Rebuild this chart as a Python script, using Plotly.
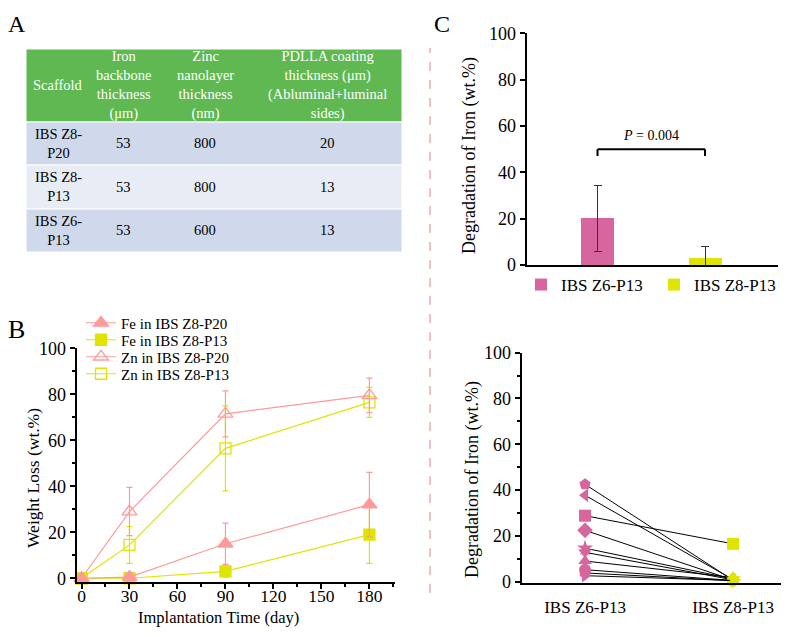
import plotly.graph_objects as go

# ---------------- data ----------------
# Panel A table
table_header = ["Scaffold",
                "Iron<br>backbone<br>thickness<br>(μm)",
                "Zinc<br>nanolayer<br>thickness<br>(nm)",
                "PDLLA coating<br>thickness (μm)<br>(Abluminal+luminal<br>sides)"]
scaffolds = ["IBS Z8-<br>P20", "IBS Z8-<br>P13", "IBS Z6-<br>P13"]
iron_thickness = [53, 53, 53]
zinc_thickness = [800, 800, 600]
pdlla_thickness = [20, 13, 13]

# Panel B
days = [0, 30, 90, 180]
fe_z8p20 = [0, 0.5, 15, 32]
fe_z8p20_err = [0, 2, 9, 14]
fe_z8p13 = [0, 0, 3, 19]
fe_z8p13_err = [0, 0, 2.5, 12.5]
zn_z8p20 = [0, 29, 71.5, 79.5]
zn_z8p20_err = [0, 10.5, 10, 7.5]
zn_z8p13 = [0, 14.5, 56.5, 76.5]
zn_z8p13_err = [0, 8, 18.5, 6.5]

# Panel C
groups = ["IBS Z6-P13", "IBS Z8-P13"]
iron_mean = [20, 3]
iron_sd = [14.3, 5]
p_label = "<i>P</i> = 0.004"
p_bracket = 50
z6_iron = [42.5, 37.7, 28.8, 22.4, 14.6, 12.8, 9.0, 5.2, 3.8, 2.6]
z8_iron = [0.6, 0.9, 16.5, 0.7, 1.2, 0.8, 1.8, 0.5, 0.4, 0.5]

# ---------------- style ----------------
PAGE_W, PAGE_H = 789, 637
OFF = 8                      # default body margin of the html page
W, H = PAGE_W - 2 * OFF, PAGE_H - 2 * OFF
FONT = "Liberation Serif"
SALMON = "#FF9A9A"
YELLOW = "#DFE400"
PINK = "#D6669D"
GREEN = "#5FB852"
ROW_DARK = "#D0D8EB"
ROW_LIGHT = "#E8ECF5"
subject_symbols = ["pentagon", "triangle-left", "square", "diamond", "star",
                   "triangle-down", "triangle-up", "circle", "hexagon", "triangle-right"]
col_widths = [64, 67, 96, 149]
row_heights = [73, 43, 44, 43]
b_legend_y = [323, 340, 357, 374]


def clamp(v):
    return max(0.0, min(1.0, v))


def px(x):
    return (x - OFF) / W


def py(y):
    return 1 - (y - OFF) / H


def dom_x(a, b):
    return [clamp(px(a)), clamp(px(b))]


def dom_y(bottom, top):
    return [clamp(py(bottom)), clamp(py(top))]


fig = go.Figure()

# ---------------- Panel B ----------------
b_series = [
    ("Fe in IBS Z8-P20", fe_z8p20, fe_z8p20_err, SALMON, "triangle-up", 13, "legend"),
    ("Fe in IBS Z8-P13", fe_z8p13, fe_z8p13_err, YELLOW, "square", 11, "legend3"),
    ("Zn in IBS Z8-P20", zn_z8p20, zn_z8p20_err, SALMON, "triangle-up-open", 13, "legend4"),
    ("Zn in IBS Z8-P13", zn_z8p13, zn_z8p13_err, YELLOW, "square-open", 11, "legend5"),
]
for name, vals, errs, col, sym, sz, leg in reversed(b_series):
    fig.add_trace(go.Scatter(
        x=days, y=vals, name=name, mode="lines+markers",
        line=dict(color=col, width=1.2),
        marker=dict(symbol=sym, size=sz, color=col, line=dict(color=col, width=1.3)),
        error_y=dict(type="data", array=errs, color=col, thickness=1.2, width=3),
        xaxis="x", yaxis="y", legend=leg, cliponaxis=False,
    ))

# ---------------- Panel C top ----------------
for i, g in enumerate(groups):
    fig.add_trace(go.Bar(
        x=[g], y=[iron_mean[i]], name=g, width=0.31,
        marker=dict(color=[PINK, YELLOW][i], line=dict(width=0)),
        error_y=dict(type="data", array=[iron_sd[i]], color="#333333", thickness=1, width=4),
        xaxis="x2", yaxis="y2", legend=["legend2", "legend6"][i],
    ))

# ---------------- Panel C bottom ----------------
for k in range(len(z6_iron)):
    fig.add_trace(go.Scatter(
        x=groups, y=[z6_iron[k], z8_iron[k]], mode="lines+markers",
        line=dict(color="black", width=1),
        marker=dict(symbol=subject_symbols[k], size=12, color=[PINK, YELLOW], line=dict(width=0)),
        xaxis="x3", yaxis="y3", showlegend=False, cliponaxis=False,
    ))

# ---------------- Panel A table (hidden axes x4/y4) ----------------
shapes = []
annotations = []
col_edges = [0]
for w_ in col_widths:
    col_edges.append(col_edges[-1] + w_)
row_edges = [0]
for h_ in row_heights:
    row_edges.append(row_edges[-1] + h_)

body_cols = [scaffolds, [str(v) for v in iron_thickness],
             [str(v) for v in zinc_thickness], [str(v) for v in pdlla_thickness]]
row_fills = [GREEN, ROW_DARK, ROW_LIGHT, ROW_DARK]
for r in range(len(row_heights)):
    shapes.append(dict(type="rect", xref="x4", yref="y4",
                       x0=col_edges[0], x1=col_edges[-1], y0=row_edges[r], y1=row_edges[r + 1],
                       fillcolor=row_fills[r], line=dict(color="white", width=1), layer="below"))
    for c in range(len(col_widths)):
        txt = table_header[c] if r == 0 else body_cols[c][r - 1]
        annotations.append(dict(
            xref="x4", yref="y4", x=(col_edges[c] + col_edges[c + 1]) / 2,
            y=(row_edges[r] + row_edges[r + 1]) / 2, text=txt, showarrow=False,
            align="center", xanchor="center", yanchor="middle",
            font=dict(family=FONT, size=14.5, color="white" if r == 0 else "black")))

# bracket for P value
shapes += [
    dict(type="line", xref="x2", yref="y2", x0=0, x1=1, y0=p_bracket, y1=p_bracket,
         line=dict(color="black", width=2)),
    dict(type="line", xref="x2", yref="y2", x0=0, x1=0, y0=p_bracket - 3, y1=p_bracket,
         line=dict(color="black", width=2)),
    dict(type="line", xref="x2", yref="y2", x0=1, x1=1, y0=p_bracket - 3, y1=p_bracket,
         line=dict(color="black", width=2)),
]
# dashed separator
shapes.append(dict(type="line", xref="paper", yref="paper", x0=px(430), x1=px(430),
                   y0=py(593), y1=py(48), line=dict(color="#E08585", width=1, dash="dash")))


def label(x, y, text, size, angle=0):
    return dict(xref="paper", yref="paper", x=px(x), y=py(y), text=text, textangle=angle,
                showarrow=False, xanchor="center", yanchor="middle",
                font=dict(family=FONT, size=size, color="black"))


annotations += [
    dict(xref="x2", yref="y2", x=0.5, y=56, text=p_label, showarrow=False,
         xanchor="center", yanchor="middle", font=dict(family=FONT, size=14, color="black")),
    label(17, 24, "A", 24),
    label(16.5, 329, "B", 26),
    label(442, 24, "C", 24),
    label(33, 478, "Weight Loss (wt.%)", 17.5, -90),
    label(219, 617.5, "Implantation Time (day)", 16.5),
    label(470, 156, "Degradation of Iron (wt.%)", 18, -90),
    label(472, 480, "Degradation of Iron (wt.%)", 18, -90),
]

axis_common = dict(showline=True, linecolor="black", linewidth=2, showgrid=False,
                   zeroline=False, ticks="outside", tickcolor="black", tickwidth=1.5,
                   ticklen=5, automargin=False,
                   tickfont=dict(family=FONT, size=18, color="black"))

leg_common = dict(xanchor="left", yanchor="middle", bgcolor="rgba(0,0,0,0)", borderwidth=0)
b_legends = {}
for j, key in enumerate(["legend", "legend3", "legend4", "legend5"]):
    b_legends[key] = dict(x=px(81), y=py(b_legend_y[j]),
                          font=dict(family=FONT, size=15, color="black"), **leg_common)

fig.update_layout(
    width=W, height=H, margin=dict(l=0, r=0, t=0, b=0, autoexpand=False),
    paper_bgcolor="white", plot_bgcolor="white",
    font=dict(family=FONT, color="black"),
    xaxis=dict(domain=dom_x(76.7, 395), range=[-3, 196], anchor="y",
               tickvals=days + [60, 120, 150], **axis_common,
               minor=dict(dtick=15, tick0=0, ticks="outside", ticklen=3, tickcolor="black")),
    yaxis=dict(domain=dom_y(581.7, 348.3), range=[-1.5, 100], anchor="x",
               dtick=20, tick0=0, **axis_common,
               minor=dict(dtick=10, tick0=0, ticks="outside", ticklen=3, tickcolor="black")),
    xaxis2=dict(domain=dom_x(526.7, 778), range=[-0.659, 1.679], anchor="y2",
                type="category", categoryarray=groups, showline=True, linecolor="black",
                linewidth=2, ticks="", showticklabels=False, showgrid=False, zeroline=False,
                automargin=False),
    yaxis2=dict(domain=dom_y(265, 33.3), range=[0, 100], anchor="x2", dtick=20, tick0=0,
                **axis_common),
    xaxis3=dict(domain=dom_x(521.7, 781), range=[-0.428, 1.324], anchor="y3",
                type="category", categoryarray=groups, showline=True, linecolor="black",
                linewidth=2, ticks="", showgrid=False, zeroline=False, automargin=False,
                ticklabelstandoff=8,
                tickfont=dict(family=FONT, size=17, color="black")),
    yaxis3=dict(domain=dom_y(583, 352.7), range=[-0.6, 100], anchor="x3", dtick=20, tick0=0,
                **axis_common,
                minor=dict(dtick=10, tick0=0, ticks="outside", ticklen=3, tickcolor="black")),
    xaxis4=dict(domain=dom_x(26, 402), range=[0, sum(col_widths)], anchor="y4",
                visible=False, fixedrange=True, automargin=False),
    yaxis4=dict(domain=dom_y(252, 49), range=[sum(row_heights), 0], anchor="x4",
                visible=False, fixedrange=True, automargin=False),
    legend2=dict(x=px(521), y=py(285), font=dict(family=FONT, size=17, color="black"),
                 **leg_common),
    legend6=dict(x=px(654), y=py(285), font=dict(family=FONT, size=17, color="black"),
                 **leg_common),
    shapes=shapes, annotations=annotations,
    bargap=0,
)
fig.update_layout(**b_legends)
fig.update_xaxes(ticklabelstandoff=-8, tickfont=dict(family=FONT, size=17.5, color="black"),
                 selector=dict(anchor="y"))

fig.write_html("out.html")
